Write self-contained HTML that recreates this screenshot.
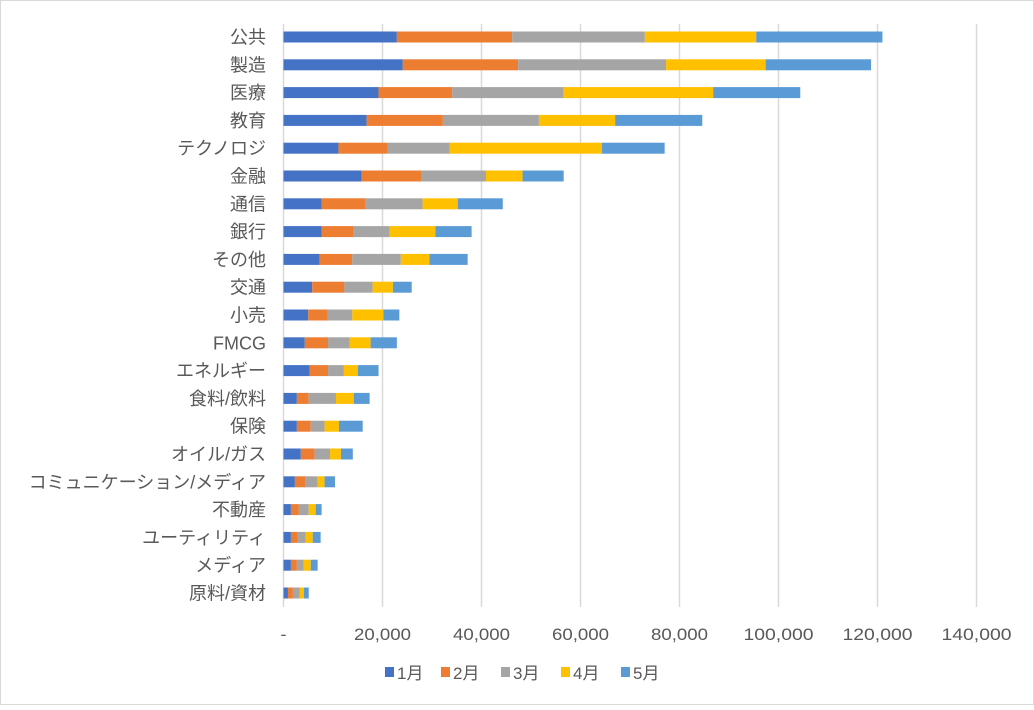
<!DOCTYPE html>
<html><head><meta charset="utf-8"><style>
body{margin:0;background:#fff;}
svg text{font-family:"Liberation Sans","Noto Sans CJK JP",sans-serif;fill:#595959;}
</style></head><body>
<svg id="chart" width="1034" height="705" viewBox="0 0 1034 705" xmlns="http://www.w3.org/2000/svg">
<rect x="0.5" y="0.5" width="1033" height="704" fill="#fff" stroke="#d9d9d9"/>
<g id="grid"></g><g id="bars"></g><g id="labels"></g><g id="ticks"></g><g id="legend"></g>
</svg>
<script>
const categories=["公共","製造","医療","教育","テクノロジ","金融","通信","銀行","その他","交通","小売","FMCG","エネルギー","食料/飲料","保険","オイル/ガス","コミュニケーション/メディア","不動産","ユーティリティ","メディア","原料/資材"];
const jan=[22.9,24.1,19.2,16.8,11.1,15.8,7.7,7.7,7.3,5.8,5.0,4.3,5.3,2.7,2.7,3.5,2.3,1.5,1.5,1.5,0.9];
const feb=[23.3,23.3,14.9,15.4,9.9,12.1,8.9,6.5,6.6,6.5,3.9,4.7,3.7,2.4,2.8,2.8,2.2,1.6,1.4,1.2,1.0];
const mar=[26.8,29.9,22.5,19.4,12.6,13.0,11.5,7.2,9.8,5.7,5.0,4.4,3.2,5.5,2.8,3.1,2.4,2.0,1.6,1.4,1.4];
const apr=[22.5,20.1,30.2,15.4,30.7,7.4,7.1,9.3,5.8,4.1,6.3,4.2,2.8,3.6,2.9,2.2,1.4,1.4,1.4,1.4,0.8];
const may=[25.5,21.3,17.6,17.6,12.7,8.3,9.1,7.3,7.7,3.8,3.2,5.3,4.2,3.2,4.8,2.4,2.1,1.2,1.6,1.4,1.0];
const seriesNames=["1月","2月","3月","4月","5月"];
const seriesColors=["#4472c4","#ed7d31","#a5a5a5","#ffc000","#5b9bd5"];
const tickValues=[0,20000,40000,60000,80000,100000,120000,140000];
const tickLabels=["-","20,000","40,000","60,000","80,000","100,000","120,000","140,000"];
const series=[jan,feb,mar,apr,may];
const NS="http://www.w3.org/2000/svg";
const x0=283.5, pxPerUnit=4.95/1000;
function xs(v){return x0+v*pxPerUnit;}
function ys(i){return 37+i*27.8;}
function mk(tag,attrs,parent){const e=document.createElementNS(NS,tag);for(const k in attrs)e.setAttribute(k,attrs[k]);parent.appendChild(e);return e;}
const grid=document.getElementById('grid'),bars=document.getElementById('bars'),labels=document.getElementById('labels'),ticks=document.getElementById('ticks'),legend=document.getElementById('legend');
tickValues.forEach((t,i)=>{
  const l=mk('line',{x1:xs(t),x2:xs(t),y1:24,y2:607,stroke:'#d9d9d9','stroke-width':1.5},grid);
  
  
  const tx=mk('text',{x:xs(t),y:640,'text-anchor':'middle','font-size':17,textLength:(i===0?6:(t>=100000?70:57)),lengthAdjust:'spacingAndGlyphs'},ticks);
  tx.textContent=tickLabels[i];
  
  
});
categories.forEach((c,i)=>{
  const y=ys(i);
  const tx=mk('text',{x:266,y:y+6.5,'text-anchor':'end','font-size':18},labels);
  tx.textContent=c;
  
  
  let cum=0;
  series.forEach((s,k)=>{
    const v=s[i]*1000;
    const r=mk('rect',{x:xs(cum),y:y-5.5,width:Math.max(0,xs(cum+v)-xs(cum)),height:11,fill:seriesColors[k]},bars);
    
    
    cum+=v;
  });
});
const lx=[385,441,501,561,621];
seriesNames.forEach((n,k)=>{
  const g=mk('g',{},legend);
  
  
  mk('rect',{x:lx[k],y:667,width:9,height:10,fill:seriesColors[k]},g);
  const t=mk('text',{x:lx[k]+12,y:679,'font-size':17},g);
  t.textContent=n;
});
</script>
</body></html>
